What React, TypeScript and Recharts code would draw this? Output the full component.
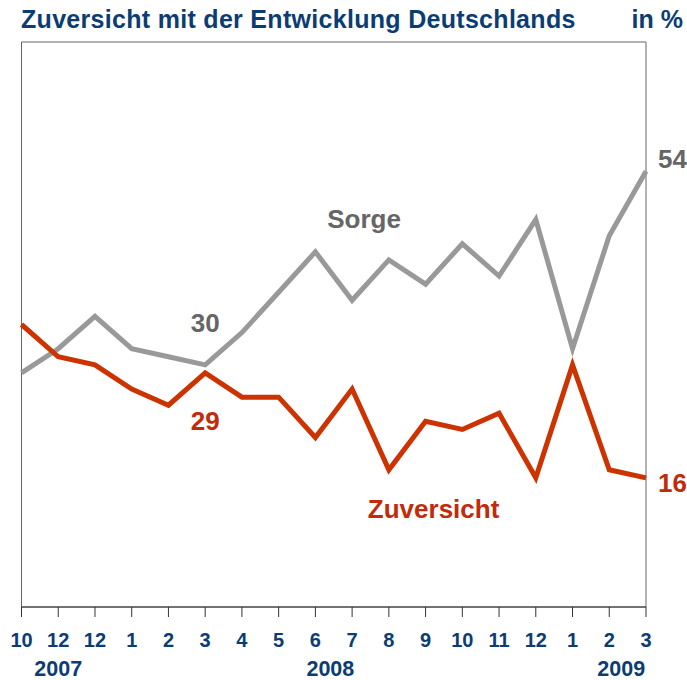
import { LabelList, Line, LineChart, ReferenceArea, XAxis, YAxis } from 'recharts';

const FONT = '"Liberation Sans", Arial, sans-serif';
const BLUE = '#0b3d73';
const GRAY = '#999999';
const RED = '#cc3300';

const MONTHS = ['10', '12', '12', '1', '2', '3', '4', '5', '6', '7', '8', '9', '10', '11', '12', '1', '2', '3'];
const YEARS = ['', '2007', '', '', '', '', '', '', '2008', '', '', '', '', '', '', '', '2009', ''];
const SORGE = [29, 32, 36, 32, 31, 30, 34, 39, 44, 38, 43, 40, 45, 41, 48, 32, 46, 54];
const ZUVERSICHT = [35, 31, 30, 27, 25, 29, 26, 26, 21, 27, 17, 23, 22, 24, 16, 30, 17, 16];

const data = MONTHS.map((m, i) => ({ i, month: m, sorge: SORGE[i], zuversicht: ZUVERSICHT[i] }));

// Year labels are a little off their month tick in the original
const YEAR_DX: Record<string, number> = { '2007': 0, '2008': 15, '2009': 12 };

const MonthTick = (props: any) => {
  const { x, y, payload } = props;
  const i = payload.value as number;
  const year = YEARS[i];
  return (
    <g>
      <text x={x} y={y} dy={28} textAnchor="middle" fill={BLUE} fontSize={20} fontWeight="bold" fontFamily={FONT}>
        {MONTHS[i]}
      </text>
      {year && (
        <text x={x + YEAR_DX[year]} y={y} dy={57} textAnchor="middle" fill={BLUE} fontSize={21.5} fontWeight="bold" fontFamily={FONT}>
          {year}
        </text>
      )}
    </g>
  );
};

interface Note { text?: string; dx: number; dy: number; anchor: 'start' | 'middle' }

// annotations hung on particular points of each series
const labelAt = (notes: Record<number, Note[]>, color: string) => (props: any) => {
  const { x, y, index, value } = props;
  const list = notes[index];
  if (!list) return null;
  return (
    <g>
      {list.map((n, k) => (
        <text key={k} x={x + n.dx} y={y + n.dy} textAnchor={n.anchor} fill={color} fontSize={26} fontWeight="bold" fontFamily={FONT}>
          {n.text ?? value}
        </text>
      ))}
    </g>
  );
};

const SORGE_NOTES: Record<number, Note[]> = {
  5: [{ dx: 0, dy: -33, anchor: 'middle' }],
  9: [{ text: 'Sorge', dx: 12, dy: -72, anchor: 'middle' }],
  17: [{ dx: 12, dy: -3, anchor: 'start' }],
};
const ZUV_NOTES: Record<number, Note[]> = {
  5: [{ dx: 0, dy: 57, anchor: 'middle' }],
  11: [{ text: 'Zuversicht', dx: 8, dy: 97, anchor: 'middle' }],
  17: [{ dx: 12, dy: 14, anchor: 'start' }],
};

export default function App() {
  return (
    <div style={{ position: 'absolute', left: 0, top: 0, width: 687, height: 680, background: '#fff', fontFamily: FONT }}>
      <div style={{ position: 'absolute', left: 21, top: 5, fontSize: 25, fontWeight: 'bold', letterSpacing: 0.3, color: BLUE, whiteSpace: 'nowrap' }}>
        Zuversicht mit der Entwicklung Deutschlands
      </div>
      <div style={{ position: 'absolute', right: 4, top: 5, fontSize: 25, fontWeight: 'bold', color: BLUE }}>in %</div>
      <LineChart width={687} height={680} data={data} margin={{ top: 42, right: 41, left: 21.5, bottom: 13 }}>
        <XAxis
          dataKey="i"
          type="number"
          domain={[0, 17]}
          ticks={data.map((d) => d.i)}
          interval={0}
          height={60}
          tickSize={10}
          tickLine={{ stroke: '#333' }}
          axisLine={{ stroke: '#333' }}
          tick={<MonthTick />}
        />
        <YAxis hide domain={[0, 70]} />
        <ReferenceArea x1={0} x2={17} y1={0} y2={70} fill="none" stroke="#666" strokeWidth={1} />
        <Line dataKey="sorge" stroke={GRAY} strokeWidth={5} dot={false} isAnimationActive={false}>
          <LabelList dataKey="sorge" content={labelAt(SORGE_NOTES, '#666666')} />
        </Line>
        <Line dataKey="zuversicht" stroke={RED} strokeWidth={5} dot={false} isAnimationActive={false}>
          <LabelList dataKey="zuversicht" content={labelAt(ZUV_NOTES, '#c22a0a')} />
        </Line>
      </LineChart>
    </div>
  );
}
